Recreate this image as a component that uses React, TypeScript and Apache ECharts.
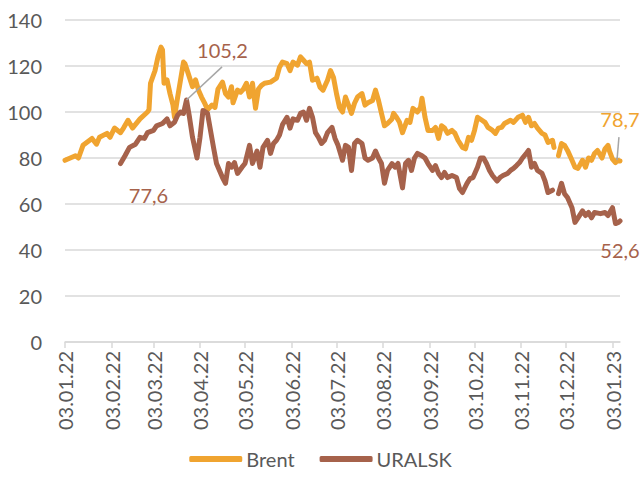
import React, { useEffect, useRef } from "react";
import * as echarts from "echarts";

// x-axis tick labels (dates, DD.MM.YY)
const tickLabels = [
  "03.01.22", "03.02.22", "03.03.22", "03.04.22", "03.05.22", "03.06.22", "03.07.22",
  "03.08.22", "03.09.22", "03.10.22", "03.11.22", "03.12.22", "03.01.23",
];

// day offsets since 03.01.22
const brentDays = [
  0, 7, 9, 12, 18, 21, 23, 28, 30, 33, 37, 39, 42, 45, 50, 55, 56, 57, 60, 62, 64, 65, 66, 68, 70, 72, 73,
  75, 79, 80, 82, 85, 87, 89, 91, 93, 95, 98, 100, 102, 105, 107, 109, 111, 112, 115, 117, 119, 121, 123,
  125, 127, 129, 131, 133, 137, 141, 143, 145, 148, 150, 152, 155, 157, 159, 161, 163, 165, 168, 170, 172,
  175, 177, 179, 181, 183, 185, 187, 189, 191, 193, 195, 198, 200, 202, 205, 207, 209, 211, 213, 215, 218,
  219, 221, 223, 225, 228, 230, 232, 235, 237, 238, 240, 242, 245, 247, 249, 251, 253, 255, 258, 260, 262,
  265, 267, 269, 271, 273, 275, 278, 280, 282, 285, 287, 289, 291, 293, 297, 299, 302, 305, 307, 309, 311,
  313, 315, 318, 320, 322, 325, 326, 327, 329, 331, 333, 335, 338, 340, 342, 345, 347, 349, 351, 353, 355,
  358, 360, 362, 363, 365, 367, 368, 370,
];
const brentValues = [
  79, 81, 80, 85.5, 88.5, 86, 89, 90.7, 89, 93, 91, 93, 96.4, 93, 97, 100, 101, 112.5, 118, 124, 128.2, 127,
  112.5, 114, 108, 103, 97.7, 106, 121.7, 121, 117, 111, 114, 109.5, 106.5, 104, 101, 103, 102, 110, 113, 108,
  106.5, 111, 104, 109.5, 108.6, 110, 112.5, 106.5, 112.5, 101.6, 110, 111.6, 112.5, 113, 114.7, 119.5, 121.7,
  121, 118, 121.7, 120.4, 124, 122.5, 121, 121.7, 113.8, 114.7, 110.8, 109.5, 113.8, 118, 115, 108, 102, 100,
  106.5, 103, 99.4, 103.8, 106.5, 108, 103, 104, 105, 109.5, 105, 99.4, 94, 95, 97, 99.4, 97.7, 95.5, 91,
  96.4, 95.5, 101.6, 100, 102, 106, 97.7, 92, 92, 93.3, 88.5, 94, 93, 90.7, 92, 90.7, 87.7, 84.6, 84, 89,
  87.7, 92, 97.7, 96.4, 95.5, 93.3, 92, 90.7, 93, 93.3, 95, 96.4, 95.5, 97.7, 98.6, 95.5, 97.7, 94, 95, 93,
  90.7, 90, 86.8, 87.7, 84.6, null, 81, 86.3, 85.5, 83.3, 79, 76, 75.5, 79, 76, 80, 79, 82, 83.3, 80, 84,
  85.5, 83, 79.5, 78, 79, 78.7,
];

const uralsDays = [
  37, 40, 43, 47, 50, 53, 55, 59, 61, 65, 68, 70, 73, 75, 77, 79, 81, 83, 85, 88, 90, 92, 95, 97, 99, 101,
  105, 107, 109, 111, 113, 115, 118, 120, 123, 125, 128, 130, 132, 135, 137, 139, 141, 143, 145, 148, 150,
  152, 155, 157, 159, 161, 163, 165, 167, 169, 171, 173, 175, 178, 180, 182, 185, 187, 189, 191, 193, 195,
  198, 200, 202, 205, 207, 209, 211, 213, 215, 218, 220, 222, 225, 227, 229, 231, 233, 235, 238, 240, 242,
  245, 247, 249, 251, 253, 255, 258, 261, 263, 265, 268, 270, 272, 275, 277, 279, 281, 283, 285, 288, 290,
  292, 295, 297, 299, 301, 303, 305, 308, 309, 311, 313, 315, 318, 320, 322, 325, 327, 329, 331, 333, 335,
  338, 340, 342, 345, 347, 349, 351, 353, 357, 360, 362, 365, 367, 369, 370,
];
const uralsValues = [
  77.6, 81, 84.6, 86, 89, 88.5, 91, 92, 94, 95, 97, 94, 95.5, 98.5, 100, 99.4, 105.2, 97.7, 89, 80, 89,
  100.7, 99.4, 92, 84.6, 77.6, 71.5, 69, 77.6, 76, 78, 73.3, 76, 77.6, 85.5, 77.6, 83, 76, 84.6, 87.7, 82,
  86.3, 87.7, 90, 94.5, 97.7, 93, 97, 96.4, 99.4, 100, 96.4, 101.6, 97.7, 91, 89, 86.3, 87.7, 91, 93.3,
  88.5, 85.5, 79, 85.5, 84.6, 74.6, 86.3, 87.7, 86.3, 80, 79, 80, 83, 80, 77.6, 69, 74.6, 77.6, 76, 77.6,
  67, 77.6, 79, 74.6, 80, 82, 81, 80, 77.6, 74.6, 76.7, 73.3, 71.5, 73.7, 71.5, 72.4, 71.5, 66.7, 65, 69,
  71, 71.5, 76, 80, 80, 77.6, 74.6, 72.4, 70, 71.5, 72.4, 73.3, 74.6, 75.5, 76.7, 78, 80, 82.4, 83.3, 76,
  77.6, 74.6, 73.3, 70, 65, 66, null, 64.5, 69, 64.5, 62.8, 58.4, 52, 54, 57, 55, 56.3, 54, 56.3, 55.8,
  56.3, 55, 58.4, 51.5, 52, 52.6,
];

const BRENT = "#F0A430";
const URALS = "#A6624B";
const TEXT = "#595959";
const GRID = "#D9D9D9";
const FONT = "Lato";

function dayOf(label: string): number {
  const [d, m, y] = label.split(".").map(Number);
  return Math.round((Date.UTC(2000 + y, m - 1, d) - Date.UTC(2022, 0, 3)) / 86400000);
}

const fmt = (v: number) => v.toFixed(1).replace(".", ",");

export default function App() {
  const ref = useRef<HTMLDivElement>(null);
  useEffect(() => {
    document.body.style.margin = "0";
    if (!ref.current) return;
    const chart = echarts.init(ref.current, undefined, { renderer: "svg" });
    const tickDays = tickLabels.map(dayOf);
    const brentData = brentDays.map((d, i) => [d, brentValues[i] == null ? "-" : brentValues[i]]);
    const uralsData = uralsDays.map((d, i) => [d, uralsValues[i] == null ? "-" : uralsValues[i]]);
    const peakIdx = uralsValues.indexOf(Math.max(...(uralsValues.filter((v) => v != null) as number[])));
    const uStart = [uralsDays[0], uralsValues[0] as number];
    const uEnd = [uralsDays[uralsDays.length - 1], uralsValues[uralsValues.length - 1] as number];
    const bEnd = [brentDays[brentDays.length - 1], brentValues[brentValues.length - 1] as number];
    const uPeak = [uralsDays[peakIdx], uralsValues[peakIdx] as number];
    const labelStyle = (color: string, offset: number[]) => ({
      show: true,
      color,
      fontSize: 20,
      fontFamily: FONT,
      offset,
      position: "inside",
    });
    chart.setOption({
      animation: false,
      textStyle: { fontFamily: FONT },
      grid: { left: 65, right: 21, top: 20, bottom: 150, containLabel: false },
      legend: {
        data: ["Brent", "URALSK"],
        left: "center",
        top: 444,
        icon: "roundRect",
        itemWidth: 53,
        itemHeight: 6,
        itemGap: 25,
        textStyle: { color: TEXT, fontSize: 20, fontFamily: FONT, padding: [0, 0, 0, -1] },
      },
      xAxis: {
        type: "value",
        min: 0,
        max: 370,
        splitLine: { show: false },
        axisLine: { show: true, lineStyle: { color: GRID, width: 1.5 } },
        axisTick: { show: true, customValues: tickDays, length: 6, lineStyle: { color: GRID, width: 1.5 } },
        axisLabel: {
          customValues: tickDays,
          rotate: 90,
          margin: 9,
          color: TEXT,
          fontSize: 20,
          fontFamily: FONT,
          formatter: (v: number) => tickLabels[tickDays.indexOf(Math.round(v))] ?? "",
        },
      },
      yAxis: {
        type: "value",
        min: 0,
        max: 140,
        interval: 20,
        axisLine: { show: false },
        axisTick: { show: false },
        splitLine: { lineStyle: { color: GRID, width: 1.5 } },
        axisLabel: { color: TEXT, fontSize: 20, fontFamily: FONT, margin: 23 },
      },
      series: [
        {
          name: "Brent",
          type: "line",
          data: brentData,
          showSymbol: false,
          symbol: "none",
          connectNulls: false,
          color: BRENT,
          lineStyle: { color: BRENT, width: 5, cap: "round", join: "round" },
          markPoint: {
            symbol: "circle",
            symbolSize: 0,
            data: [{ coord: bEnd, label: { ...labelStyle(BRENT, [0, -42]), formatter: fmt(bEnd[1]) } }],
          },
          markLine: {
            silent: true,
            symbol: ["none", "none"],
            label: { show: false },
            lineStyle: { color: "#A6A6A6", width: 1.5, type: "solid" },
            data: [[{ coord: [368, 79.1] }, { coord: [369.3, 89.1] }]],
          },
        },
        {
          name: "URALSK",
          type: "line",
          data: uralsData,
          showSymbol: false,
          symbol: "none",
          connectNulls: false,
          color: URALS,
          lineStyle: { color: URALS, width: 5, cap: "round", join: "round" },
          markPoint: {
            symbol: "circle",
            symbolSize: 0,
            data: [
              { coord: uPeak, label: { ...labelStyle(URALS, [36, -50]), formatter: fmt(uPeak[1]) } },
              { coord: uStart, label: { ...labelStyle(URALS, [28, 31]), formatter: fmt(uStart[1]) } },
              { coord: uEnd, label: { ...labelStyle(URALS, [0, 29]), formatter: fmt(uEnd[1]) } },
            ],
          },
          markLine: {
            silent: true,
            symbol: ["none", "none"],
            label: { show: false },
            lineStyle: { color: "#A6A6A6", width: 1.5, type: "solid" },
            data: [[{ coord: uPeak }, { coord: [104.7, 119.6] }]],
          },
        },
      ],
    });
    return () => chart.dispose();
  }, []);
  return <div ref={ref} style={{ width: 641, height: 492 }} />;
}
